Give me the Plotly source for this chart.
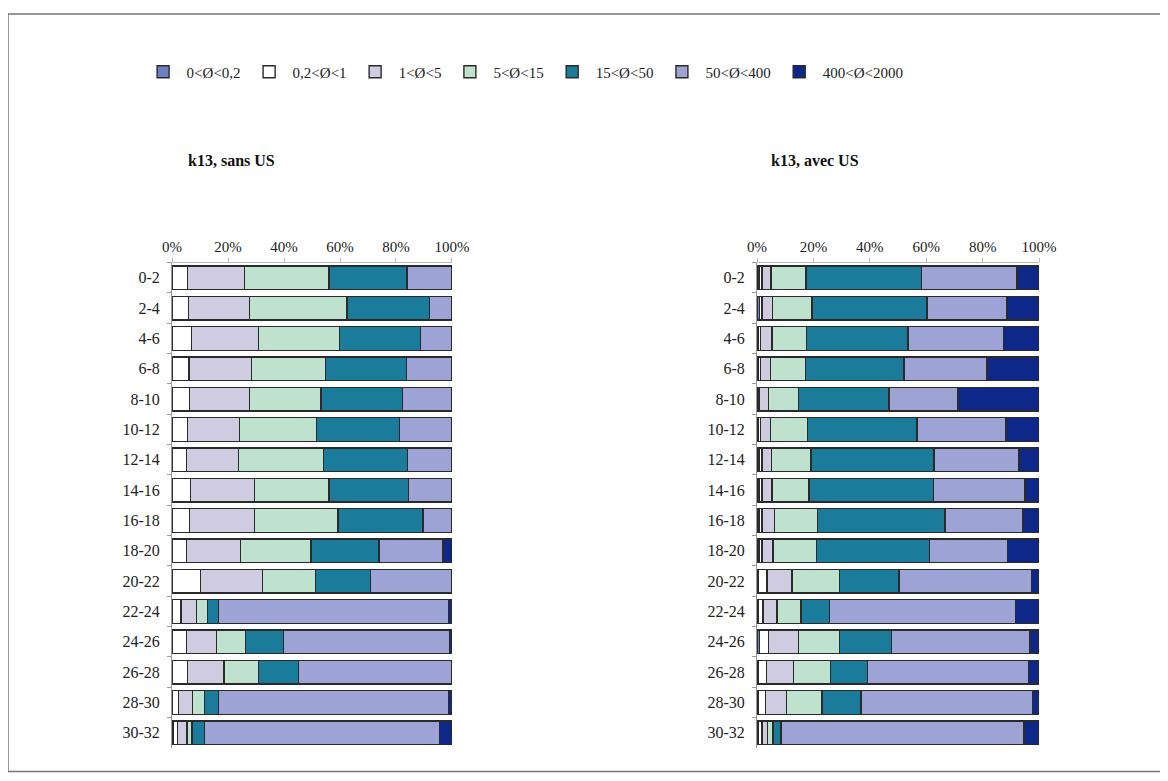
import plotly.graph_objects as go

# classes granulométriques (legende)
classes = ["0<Ø<0,2", "0,2<Ø<1", "1<Ø<5", "5<Ø<15", "15<Ø<50", "50<Ø<400", "400<Ø<2000"]
couleurs = ["#6f7fc6", "#ffffff", "#cfcce2", "#bfe2cf", "#1a7b9b", "#9da4d5", "#0d2888"]

profondeurs = ["0-2", "2-4", "4-6", "6-8", "8-10", "10-12", "12-14", "14-16",
               "16-18", "18-20", "20-22", "22-24", "24-26", "26-28", "28-30", "30-32"]

graduations = [0, 20, 40, 60, 80, 100]
etiquettes = ["0%", "20%", "40%", "60%", "80%", "100%"]

# k13, sans US (% par classe, une valeur par profondeur)
sans_c1 = [0, 0, 0, 0, 0, 0, 0, 0, 0, 0, 0, 0, 0, 0, 0, 0.3]
sans_c2 = [5.6, 5.8, 6.9, 6.1, 6.2, 5.6, 5.1, 6.5, 6.2, 5.1, 10.1, 3.2, 5.1, 5.6, 2.3, 1.6]
sans_c3 = [20.2, 21.8, 24.0, 22.3, 21.5, 18.4, 18.7, 23.0, 23.3, 19.3, 22.3, 5.6, 10.7, 12.9, 5.1, 3.5]
sans_c4 = [30.2, 34.9, 28.9, 26.5, 25.5, 27.5, 30.4, 26.6, 29.8, 25.2, 18.9, 3.9, 10.4, 12.3, 4.3, 1.7]
sans_c5 = [27.9, 29.4, 29.0, 28.8, 29.1, 29.7, 30.0, 28.3, 30.3, 24.3, 19.7, 4.0, 13.7, 14.3, 5.0, 4.6]
sans_c6 = [16.1, 8.1, 11.2, 16.3, 17.7, 18.8, 15.8, 15.6, 10.4, 22.9, 29.0, 82.1, 59.3, 54.9, 82.1, 83.8]
sans_c7 = [0, 0, 0, 0, 0, 0, 0, 0, 0, 3.2, 0, 1.2, 0.8, 0, 1.2, 4.5]

# k13, avec US
avec_c1 = [0.7, 0.8, 0.5, 0.5, 0.4, 0.5, 0.7, 0.7, 0.7, 0.7, 0.6, 0.3, 0.8, 0.3, 0.3, 0.6]
avec_c2 = [1.1, 1.0, 0.7, 0.7, 0.5, 0.7, 1.1, 1.1, 1.1, 1.1, 2.9, 1.8, 3.3, 3.0, 2.7, 1.2]
avec_c3 = [3.2, 3.7, 4.1, 3.6, 3.1, 3.5, 3.3, 3.5, 4.3, 3.9, 8.9, 5.0, 10.7, 9.7, 7.4, 2.0]
avec_c4 = [12.4, 14.0, 12.2, 12.3, 10.8, 13.2, 14.0, 13.1, 15.4, 15.3, 16.8, 8.5, 14.5, 13.0, 12.6, 1.9]
avec_c5 = [40.9, 40.7, 36.0, 35.0, 32.0, 38.8, 43.6, 44.2, 45.1, 40.2, 21.2, 10.1, 18.3, 13.2, 13.8, 2.8]
avec_c6 = [33.9, 28.5, 33.9, 29.4, 24.4, 31.6, 30.2, 32.4, 27.7, 27.7, 46.9, 66.0, 49.2, 57.0, 60.8, 86.2]
avec_c7 = [7.8, 11.3, 12.6, 18.5, 28.8, 11.7, 7.1, 5.0, 5.7, 11.1, 2.7, 8.3, 3.2, 3.8, 2.4, 5.3]

sans_us = [sans_c1, sans_c2, sans_c3, sans_c4, sans_c5, sans_c6, sans_c7]
avec_us = [avec_c1, avec_c2, avec_c3, avec_c4, avec_c5, avec_c6, avec_c7]

police = "Liberation Serif, Times New Roman, serif"

fig = go.Figure()

for i, nom in enumerate(classes):
    fig.add_trace(go.Bar(
        x=sans_us[i], y=profondeurs, orientation="h", name=nom,
        marker=dict(color=couleurs[i], line=dict(color="#2a2a2a", width=1.4)),
        xaxis="x", yaxis="y", legendgroup=nom, showlegend=True,
    ))
    fig.add_trace(go.Bar(
        x=avec_us[i], y=profondeurs, orientation="h", name=nom,
        marker=dict(color=couleurs[i], line=dict(color="#2a2a2a", width=1.4)),
        xaxis="x2", yaxis="y2", legendgroup=nom, showlegend=False,
    ))

axe_x = dict(type="linear", range=[0, 100], side="top", tickvals=graduations, ticktext=etiquettes,
             showgrid=False, zeroline=False, showline=True, automargin=False,
             linecolor="#bbbbbb", ticks="outside", ticklen=4, tickcolor="#bbbbbb",
             tickfont=dict(family=police, size=15, color="#222222"), fixedrange=True)
axe_y = dict(type="category", autorange="reversed", showgrid=False, showline=True, linecolor="#999999",
             ticks="outside", ticklen=4, tickcolor="#999999", tickson="boundaries", automargin=False,
             tickfont=dict(family=police, size=16, color="#222222"), ticksuffix="  ")

# la page ajoute une marge de 8 px autour du graphique : 1152 + 16 = 1168
fig.update_layout(
    width=1152, height=765,
    margin=dict(l=0, r=0, t=0, b=0, autoexpand=False),
    paper_bgcolor="white", plot_bgcolor="white",
    barmode="stack", bargap=0.22,
    font=dict(family=police, size=15, color="#222222"),
    xaxis=dict(axe_x, domain=[0.1424, 0.3854], anchor="y"),
    yaxis=dict(axe_y, domain=[0.0327, 0.6671], anchor="x"),
    xaxis2=dict(axe_x, domain=[0.6502, 0.8950], anchor="y2"),
    yaxis2=dict(axe_y, domain=[0.0327, 0.6671], anchor="x2"),
    legend=dict(orientation="h", x=0.448, xanchor="center", y=0.9163, yanchor="middle",
                traceorder="normal", itemwidth=37,
                font=dict(family=police, size=15, color="#222222")),
    annotations=[
        dict(text="<b>k13, sans US</b>", x=0.1944, y=0.8013, xref="paper", yref="paper",
             xanchor="center", yanchor="middle", showarrow=False,
             font=dict(family=police, size=16, color="#111111")),
        dict(text="<b>k13, avec US</b>", x=0.7005, y=0.8013, xref="paper", yref="paper",
             xanchor="center", yanchor="middle", showarrow=False,
             font=dict(family=police, size=16, color="#111111")),
    ],
    shapes=[
        dict(type="rect", xref="paper", yref="paper", x0=0.0, x1=1.01, y0=0.002, y1=0.992,
             line=dict(color="#777777", width=1.5)),
    ],
)

fig.write_html("out.html")
